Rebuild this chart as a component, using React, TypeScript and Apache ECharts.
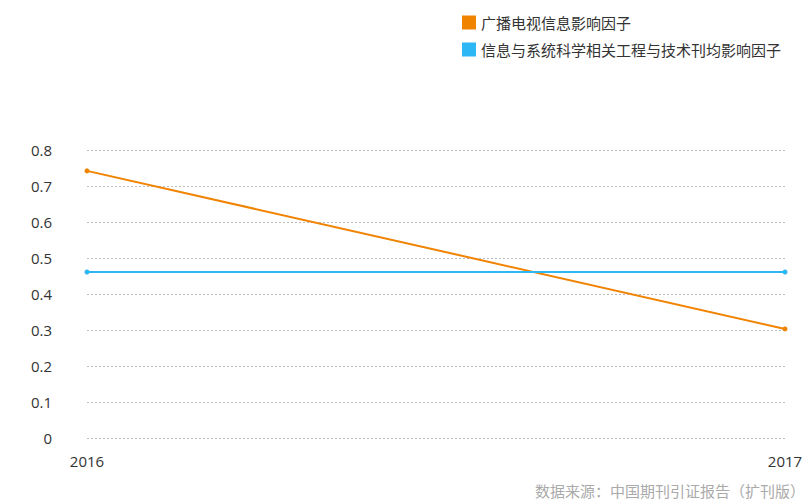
import React, { useEffect, useRef } from "react";
import * as echarts from "echarts";

const years = ["2016", "2017"];
const seriesNames = ["广播电视信息影响因子", "信息与系统科学相关工程与技术刊均影响因子"];
const broadcastValues = [0.742, 0.303];
const fieldAvgValues = [0.461, 0.461];
const sourceText = "数据来源：中国期刊引证报告（扩刊版）";

const FONT = "'Open Sans', 'Noto Sans CJK SC', sans-serif";

export default function App() {
  const ref = useRef<HTMLDivElement>(null);
  useEffect(() => {
    document.body.style.margin = "0";
    if (!ref.current) return;
    const chart = echarts.init(ref.current, undefined, { renderer: "svg" });
    chart.setOption({
      animation: false,
      textStyle: { fontFamily: FONT },
      legend: {
        orient: "vertical",
        left: 457,
        top: 10,
        itemWidth: 14,
        itemHeight: 14,
        itemGap: 12,
        icon: "rect",
        textStyle: { fontSize: 15, color: "#333", fontFamily: FONT },
        data: seriesNames,
      },
      grid: { left: 87, right: 25, top: 150, bottom: 62, containLabel: false },
      xAxis: {
        type: "category",
        data: years,
        boundaryGap: false,
        axisLine: { show: false },
        axisTick: { show: false },
        axisLabel: { fontSize: 15, color: "#333", margin: 15 },
      },
      yAxis: {
        type: "value",
        min: 0,
        max: 0.8,
        interval: 0.1,
        axisLine: { show: false },
        axisTick: { show: false },
        axisLabel: { fontSize: 15, color: "#333", margin: 35 },
        splitLine: { lineStyle: { type: [2, 2], color: "#bbb", width: 1 } },
      },
      graphic: [
        {
          type: "text",
          right: 5,
          bottom: 2,
          style: { text: sourceText, fontSize: 15, fill: "#aaa", fontFamily: FONT },
        },
      ],
      series: [
        {
          name: seriesNames[0],
          type: "line",
          data: broadcastValues,
          symbol: "circle",
          symbolSize: 5,
          itemStyle: { color: "#F08300" },
          lineStyle: { width: 2, color: "#F08300" },
        },
        {
          name: seriesNames[1],
          type: "line",
          data: fieldAvgValues,
          symbol: "circle",
          symbolSize: 5,
          itemStyle: { color: "#2DB7F5" },
          lineStyle: { width: 2, color: "#2DB7F5" },
        },
      ],
    });
    return () => chart.dispose();
  }, []);
  return <div ref={ref} style={{ width: 810, height: 500 }} />;
}
